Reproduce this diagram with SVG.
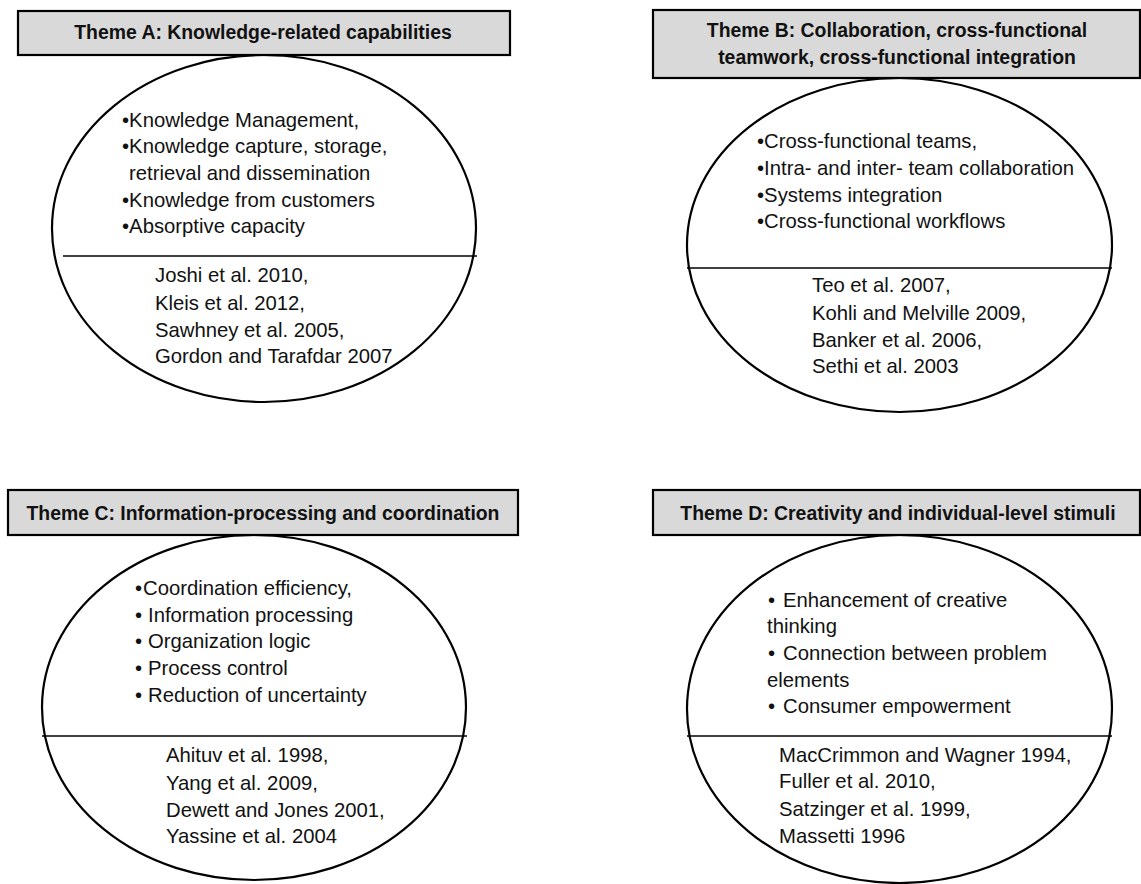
<svg xmlns="http://www.w3.org/2000/svg" width="1141" height="884" viewBox="0 0 1141 884">
<style>
.hdr{fill:#d9d9d9;stroke:#000;stroke-width:2.2}
.ell{fill:#fff;stroke:#000;stroke-width:2.2}
.div{stroke:#000;stroke-width:1.5}
.ht{font-family:"Liberation Sans",Arial,sans-serif;font-weight:bold;font-size:19.4px;fill:#111;text-anchor:middle}
.t{font-family:"Liberation Sans",Arial,sans-serif;font-size:20.3px;fill:#111}
</style>
<rect width="1141" height="884" fill="#fff"/>
<g id="themeA">
<ellipse class="ell" cx="264" cy="228.5" rx="212" ry="173.5"/>
<line class="div" x1="63" y1="256" x2="477" y2="256"/>
<rect class="hdr" x="18" y="11" width="492" height="44"/>
<text class="ht" x="263" y="39">Theme A: Knowledge-related capabilities</text>
<text class="t" x="122" y="127">•Knowledge Management,</text>
<text class="t" x="122" y="153">•Knowledge capture, storage,</text>
<text class="t" x="129" y="180">retrieval and dissemination</text>
<text class="t" x="122" y="207">•Knowledge from customers</text>
<text class="t" x="122" y="233">•Absorptive capacity</text>
<text class="t" x="155" y="282">Joshi et al. 2010,</text>
<text class="t" x="155" y="310">Kleis et al. 2012,</text>
<text class="t" x="155" y="337">Sawhney et al. 2005,</text>
<text class="t" x="155" y="363">Gordon and Tarafdar 2007</text>
</g>
<g id="themeB">
<ellipse class="ell" cx="899.5" cy="245" rx="212.5" ry="167"/>
<line class="div" x1="687" y1="268" x2="1112" y2="268"/>
<rect class="hdr" x="653" y="10" width="487" height="68"/>
<text class="ht" x="897" y="37">Theme B: Collaboration, cross-functional</text>
<text class="ht" x="897" y="64">teamwork, cross-functional integration</text>
<text class="t" x="757" y="148">•Cross-functional teams,</text>
<text class="t" x="757" y="175">•Intra- and inter- team collaboration</text>
<text class="t" x="757" y="202">•Systems integration</text>
<text class="t" x="757" y="228">•Cross-functional workflows</text>
<text class="t" x="812" y="292">Teo et al. 2007,</text>
<text class="t" x="812" y="320">Kohli and Melville 2009,</text>
<text class="t" x="812" y="347">Banker et al. 2006,</text>
<text class="t" x="812" y="373">Sethi et al. 2003</text>
</g>
<g id="themeC">
<ellipse class="ell" cx="254" cy="707.5" rx="212" ry="172.5"/>
<line class="div" x1="42" y1="736" x2="467" y2="736"/>
<rect class="hdr" x="8" y="490" width="510" height="45"/>
<text class="ht" x="263" y="520">Theme C:  Information-processing and coordination</text>
<text class="t" x="135" y="595">•<tspan x="143">Coordination efficiency,</tspan></text>
<text class="t" x="135" y="622">•<tspan x="148">Information processing</tspan></text>
<text class="t" x="135" y="648">•<tspan x="148">Organization logic</tspan></text>
<text class="t" x="135" y="675">•<tspan x="148">Process control</tspan></text>
<text class="t" x="135" y="702">•<tspan x="148">Reduction of uncertainty</tspan></text>
<text class="t" x="166" y="762">Ahituv et al. 1998,</text>
<text class="t" x="166" y="790">Yang et al. 2009,</text>
<text class="t" x="166" y="817">Dewett and Jones 2001,</text>
<text class="t" x="166" y="843">Yassine et al. 2004</text>
</g>
<g id="themeD">
<ellipse class="ell" cx="899.5" cy="709" rx="212.5" ry="174"/>
<line class="div" x1="687" y1="736" x2="1112" y2="736"/>
<rect class="hdr" x="653" y="490" width="487" height="45"/>
<text class="ht" x="898" y="520">Theme D: Creativity and individual-level stimuli</text>
<text class="t" x="768" y="607">•<tspan x="783">Enhancement of creative</tspan></text>
<text class="t" x="767" y="633">thinking</text>
<text class="t" x="768" y="660">•<tspan x="783">Connection between problem</tspan></text>
<text class="t" x="767" y="687">elements</text>
<text class="t" x="768" y="713">•<tspan x="783">Consumer empowerment</tspan></text>
<text class="t" x="779" y="762">MacCrimmon and Wagner 1994,</text>
<text class="t" x="779" y="788">Fuller et al. 2010,</text>
<text class="t" x="779" y="816">Satzinger et al. 1999,</text>
<text class="t" x="779" y="843">Massetti 1996</text>
</g>
<g id="connectors"></g>
</svg>
